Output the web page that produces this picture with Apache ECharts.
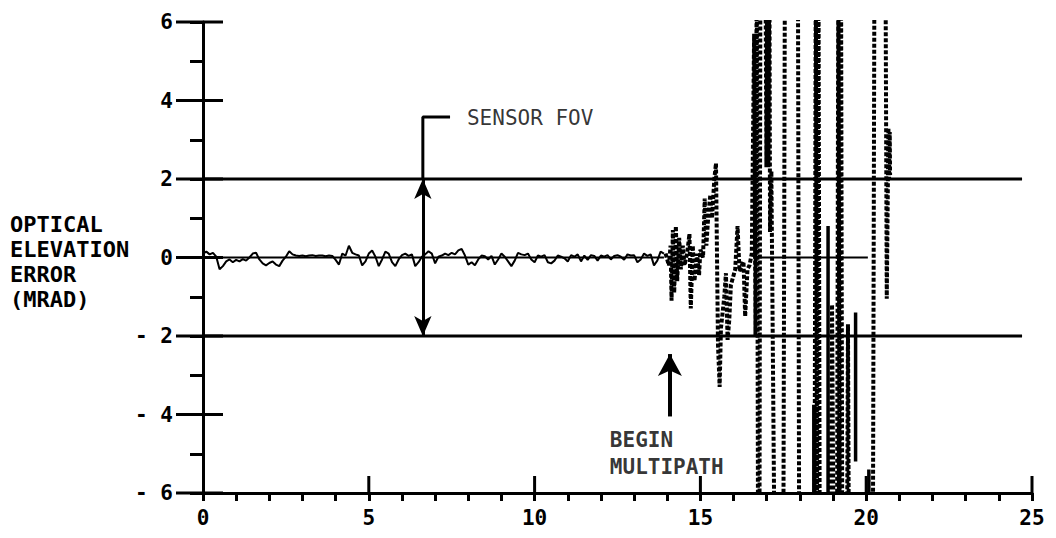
<!DOCTYPE html>
<html>
<head>
<meta charset="utf-8">
<script src="https://cdn.jsdelivr.net/npm/echarts@6/dist/echarts.min.js"></script>
<style>
html,body{margin:0;padding:0;background:#fff;}
#chart{width:1056px;height:538px;}
</style>
</head>
<body>
<div id="chart"></div>
<script>
// ---- data ----
const xTickValues = [0, 5, 10, 15, 20, 25];
const yTickValues = [-6, -4, -2, 0, 2, 4, 6];
const yAxisTitle = ['OPTICAL', 'ELEVATION', 'ERROR', '(MRAD)'];

// quiet tracking error, sampled every 0.1 s from 0 to 13.9
const noiseStep = 0.1;
const noiseY = [
  0.10, 0.15, 0.08, 0.12, 0.02, -0.30, -0.22, -0.10, -0.05, -0.12,
  -0.06, -0.10, -0.04, -0.08, 0.00, 0.10, 0.12, -0.05, -0.15, -0.20,
  -0.14, -0.10, -0.18, -0.22, -0.08, 0.02, 0.16, 0.08, 0.05, 0.04,
  0.05, 0.03, 0.05, 0.06, 0.04, 0.05, 0.05, 0.03, 0.05, 0.04,
  -0.06, -0.18, 0.10, 0.05, 0.30, 0.12, 0.08, 0.05, -0.20, -0.10,
  0.10, 0.18, 0.02, -0.22, -0.05, 0.15, 0.10, -0.12, -0.22, -0.05,
  0.06, 0.10, 0.04, 0.08, -0.22, -0.12, 0.02, 0.08, 0.16, 0.10,
  -0.15, 0.02, 0.05, 0.10, 0.06, 0.12, 0.08, 0.18, 0.22, 0.05,
  -0.18, -0.12, -0.20, -0.05, 0.05, 0.03, -0.05, 0.04, -0.18, -0.05,
  0.10, 0.02, -0.10, -0.22, -0.08, 0.12, 0.08, 0.06, 0.10, -0.05,
  -0.12, 0.05, 0.02, 0.06, -0.12, -0.15, -0.08, 0.05, 0.02, -0.02,
  -0.10, 0.06, 0.02, 0.08, -0.10, 0.05, -0.06, 0.06, 0.04, -0.08,
  0.05, 0.02, 0.06, -0.05, 0.04, 0.06, 0.02, -0.06, 0.08, 0.05,
  0.06, -0.12, -0.05, 0.10, 0.04, 0.08, -0.20, -0.08, 0.15, 0.10
];

// multipath region, dotted trace (values beyond +/-6 run off the plot)
const multipathTrace = [
  [13.95, 0.10],
  [14.05, -0.20], [14.10, 0.30], [14.13, -1.10], [14.17, 0.70], [14.21, -0.90], [14.26, 0.80],
  [14.30, -0.60], [14.36, 0.50], [14.41, -0.30], [14.47, 0.30], [14.52, -0.20],
  [14.60, 0.10], [14.67, 0.60], [14.71, -1.30], [14.77, 0.30], [14.82, -0.60],
  [14.90, 0.10], [14.96, -0.45], [15.00, 0.20],
  [15.08, 0.00], [15.13, 1.50], [15.18, 0.30], [15.24, 1.10], [15.30, 1.60], [15.35, 1.00],
  [15.42, 2.00], [15.47, 2.40], [15.53, -2.20], [15.58, -3.30], [15.62, -1.80],
  [15.72, -1.00], [15.77, -0.40], [15.82, -2.10], [15.87, -1.60], [15.92, -0.70],
  [16.05, -0.30], [16.12, 0.80], [16.18, -0.35],
  [16.30, -0.10], [16.35, -1.50], [16.42, -0.30], [16.48, -0.20],
  [16.55, 0.10], [16.62, 5.70], [16.66, -2.00], [16.70, 8], [16.74, -8],
  [16.78, -8], [16.81, 8], [16.96, 8], [16.99, 2.30], [17.02, 8], [17.05, 2.30],
  [17.08, 8], [17.10, 0.65], [17.14, 2.20], [17.24, -8],
  [17.50, -8], [17.55, 8], [17.94, 8], [17.98, -8],
  [18.44, -8], [18.48, 8], [18.52, -8], [18.56, 8], [18.60, -8],
  [18.92, -8], [18.97, -1.20], [19.02, -8],
  [19.12, -8], [19.16, 8], [19.20, -8], [19.24, 8], [19.28, -8],
  [19.42, -8], [19.45, -1.70], [19.48, -8],
  [20.20, -8], [20.25, 8], [20.58, 8], [20.62, -1.05], [20.67, 3.30], [20.69, 2.00],
  [20.71, 3.20], [20.72, 2.10]
];

// solid strokes inside the multipath region
const multipathSolid = [
  [18.42, -3.75], [18.42, -8], [18.42, '-'],
  [18.85, 0.80], [18.85, -8], [18.85, '-'],
  [19.17, -4.20], [19.17, -8], [19.17, '-'],
  [19.68, -1.40], [19.68, -5.20], [19.68, '-'],
  [20.08, -5.40], [20.08, -8]
];

// reference levels
const zeroLine = [[0, 0], [13.9, 0], [14, '-'], [16.6, 0], [20.05, 0]];
const fovLevels = [2, -2];
const fovLineEnd = 24.7;

// annotations
const fovArrowX = 6.63;
const fovLeader = [[6.63, 2], [6.63, 3.58], [7.45, 3.58]];
const fovLabelAt = [7.96, 3.55];
const fovLabel = 'SENSOR FOV';
const multipathArrow = [[14.08, -4.05], [14.08, -2.46]];
const multipathLabelAt = [12.27, -5.0];
const multipathLabel = 'BEGIN\nMULTIPATH';

// ---- chart ----
const MONO = "'DejaVu Sans Mono', 'Liberation Mono', monospace";
const chart = echarts.init(document.getElementById('chart'), null, {renderer: 'svg'});

const black = '#000';
const X_MIN = 0, X_MAX = 25, Y_MIN = -6, Y_MAX = 6;
const series = [];

fovLevels.forEach(function (lv) {
  series.push({
    type: 'line', silent: true, symbol: 'none',
    data: [[0, lv], [fovLineEnd, lv]],
    lineStyle: {color: black, width: 3}, z: 3
  });
});

series.push({
  type: 'line', silent: true, symbol: 'none', data: zeroLine,
  lineStyle: {color: black, width: 2}, z: 3
});

series.push({
  type: 'line', silent: true, symbol: 'none',
  data: noiseY.map(function (v, i) { return [+(i * noiseStep).toFixed(2), v]; }),
  lineStyle: {color: black, width: 2}, z: 4
});

series.push({
  type: 'line', silent: true, symbol: 'none', clip: true,
  data: multipathTrace,
  lineStyle: {color: black, width: 4, type: [4, 2], cap: 'butt'}, z: 4
});

series.push({
  type: 'line', silent: true, symbol: 'none', clip: true,
  data: multipathSolid,
  lineStyle: {color: black, width: 3.5}, z: 4
});

// major ticks that cross the axes (drawn at the axes' own coordinates)
series.push({
  type: 'custom', silent: true, clip: false, z: 5,
  data: yTickValues.map(function (v) { return [X_MIN, v]; }),
  renderItem: function (params, api) {
    const p = api.coord([api.value(0), api.value(1)]);
    return {type: 'line', shape: {x1: p[0] - 27, y1: p[1], x2: p[0] + 20, y2: p[1]},
      style: {stroke: black, lineWidth: 3}};
  }
});
series.push({
  type: 'custom', silent: true, clip: false, z: 5,
  data: xTickValues.filter(function (v) { return v > X_MIN; }).map(function (v) { return [v, Y_MIN]; }),
  renderItem: function (params, api) {
    const p = api.coord([api.value(0), api.value(1)]);
    return {type: 'line', shape: {x1: p[0], y1: p[1], x2: p[0], y2: p[1] - 17},
      style: {stroke: black, lineWidth: 3}};
  }
});

// sensor FOV leader + double arrow
series.push({
  type: 'line', silent: true, symbol: 'none', data: fovLeader,
  lineStyle: {color: black, width: 3}, z: 5,
  markLine: {
    silent: true, symbol: ['arrow', 'arrow'], symbolSize: [13, 20],
    label: {show: false},
    lineStyle: {color: black, width: 3, type: 'solid'},
    data: [[{coord: [fovArrowX, 2]}, {coord: [fovArrowX, -2]}]]
  }
});

// begin multipath arrow
series.push({
  type: 'line', silent: true, symbol: 'none', data: [],
  markLine: {
    silent: true, symbol: ['none', 'arrow'], symbolSize: [18, 22],
    label: {show: false},
    lineStyle: {color: black, width: 4, type: 'solid'},
    data: [[{coord: multipathArrow[0]}, {coord: multipathArrow[1]}]]
  }
});

// text labels
series.push({
  type: 'scatter', silent: true, symbolSize: 0,
  data: [
    {value: fovLabelAt, label: {formatter: fovLabel, fontWeight: 'normal', fontSize: 21}},
    {value: multipathLabelAt, label: {formatter: multipathLabel, fontWeight: 'bold', fontSize: 21, lineHeight: 27}}
  ],
  label: {show: true, position: 'right', distance: 0, color: black, fontFamily: MONO, align: 'left'},
  z: 6
});

const option = {
  backgroundColor: '#fff',
  animation: false,
  grid: {left: 203, right: 24, top: 22, bottom: 45, containLabel: false},
  xAxis: {
    type: 'value', min: X_MIN, max: X_MAX, interval: 1, position: 'bottom',
    axisLine: {show: true, onZero: false, lineStyle: {color: black, width: 3}},
    axisTick: {show: true, inside: false, length: 8, lineStyle: {color: black, width: 3}},
    axisLabel: {
      formatter: function (v) { return xTickValues.indexOf(v) >= 0 ? String(v) : ''; },
      margin: 14, color: black, fontFamily: MONO, fontWeight: 'bold', fontSize: 21
    },
    splitLine: {show: false}
  },
  yAxis: {
    type: 'value', min: Y_MIN, max: Y_MAX, interval: 1, position: 'left',
    axisLine: {show: true, onZero: false, lineStyle: {color: black, width: 3}},
    axisTick: {show: true, inside: false, length: 13, lineStyle: {color: black, width: 3}},
    axisLabel: {
      formatter: function (v) {
        if (yTickValues.indexOf(v) < 0) return '';
        return v < 0 ? '- ' + (-v) : String(v);
      },
      margin: 30, color: black, fontFamily: MONO, fontWeight: 'bold', fontSize: 21
    },
    splitLine: {show: false}
  },
  graphic: [{
    type: 'text', left: 10, top: 212, silent: true,
    style: {
      text: yAxisTitle.join('\n'), fill: black,
      font: 'bold 22px ' + MONO, lineHeight: 25
    }
  }],
  series: series
};
chart.setOption(option);
</script>
</body>
</html>
